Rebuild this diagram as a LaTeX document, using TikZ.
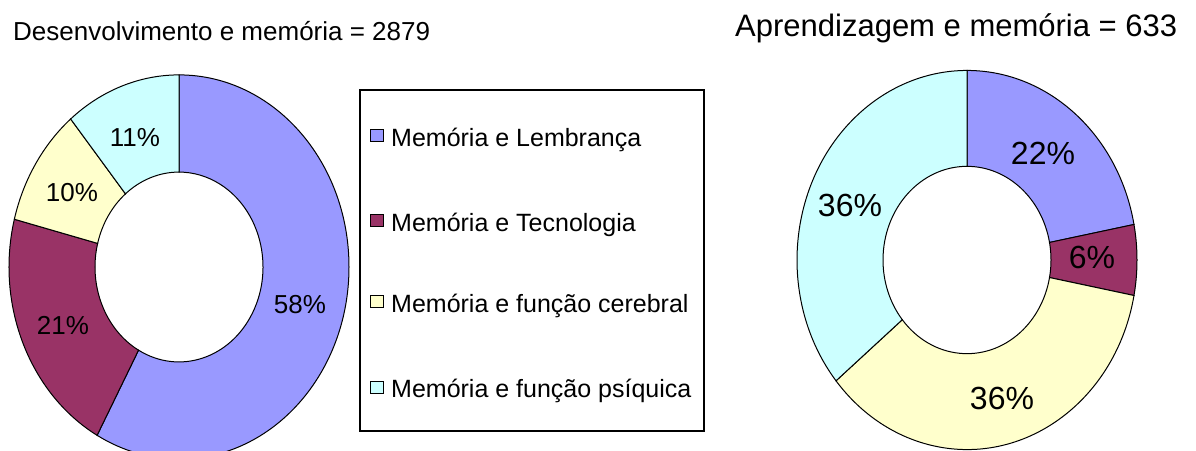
\documentclass[tikz,border=0pt]{standalone}
\usepackage{fontspec}
\setmainfont{Liberation Sans}
\usepackage{tikz}
\definecolor{lavender}{HTML}{9999FF}
\definecolor{plum}{HTML}{993366}
\definecolor{cream}{HTML}{FFFFCC}
\definecolor{icecyan}{HTML}{CCFFFF}
\newcommand{\ringslice}[3]{%
  \draw [slice, fill=#3] (#1:170) arc [start angle=#1, end angle=#2, radius=170]
    -- (#2:84) arc [start angle=#2, end angle=#1, radius=84] -- cycle;}
\tikzset{slice/.style={draw=black, line width=1pt},
  swatch/.style={draw=black, line width=1pt, minimum width=13pt, minimum height=12pt, inner sep=0pt},
  legtext/.style={anchor=base west, inner sep=0pt, font=\fontsize{25}{28}\selectfont},
  pctsmall/.style={font=\fontsize{26}{28}\selectfont},
  pctbig/.style={font=\fontsize{32}{34}\selectfont}}

\begin{document}
\begin{tikzpicture}[x=1pt, y=1pt]
	\clip (0,0) rectangle (1196,450);
	\fill [white] (0,0) rectangle (1196,450);

	% titles
	\node [anchor=base west, inner sep=0pt, font=\fontsize{26}{28}\selectfont] (titleleft) at (13,409) {Desenvolvimento e memória = 2879};
	\node [anchor=base west, inner sep=0pt, font=\fontsize{31}{33}\selectfont] (titleright) at (735,413) {Aprendizagem e memória = 633};

	% left ring
	\begin{scope}[shift={(179,183)}, y=1.13pt]
		\ringslice{90}{-118.8}{lavender}
		\ringslice{-118.8}{-194.4}{plum}
		\ringslice{165.6}{129.6}{cream}
		\ringslice{129.6}{90}{icecyan}
	\end{scope}
	\node [pctsmall] (lb) at (300,145) {58\%};
	\node [pctsmall] (lt) at (63,125) {21\%};
	\node [pctsmall] (lc) at (72,257) {10\%};
	\node [pctsmall] (lp) at (135,312) {11\%};

	% right ring
	\begin{scope}[shift={(967,190)}, y=1.115pt]
		\ringslice{90}{10.8}{lavender}
		\ringslice{10.8}{-10.8}{plum}
		\ringslice{-10.8}{-140.4}{cream}
		\ringslice{-140.4}{-270}{icecyan}
	\end{scope}
	\node [pctbig] (rb) at (1043,297) {22\%};
	\node [pctbig] (rt) at (1092,193) {6\%};
	\node [pctbig] (rc) at (1002,52) {36\%};
	\node [pctbig] (rp) at (850,245) {36\%};

	% legend
	\draw [black, line width=1.5pt] (360,360) rectangle (704,19);
	\node [swatch, fill=lavender] (swb) at (377,314) {};
	\node [swatch, fill=plum] (swt) at (377,229) {};
	\node [swatch, fill=cream] (swc) at (377,148) {};
	\node [swatch, fill=icecyan] (swp) at (377,63) {};
	\node [legtext] (legb) at (391,303) {Memória e Lembrança};
	\node [legtext] (legt) at (391,218) {Memória e Tecnologia};
	\node [legtext] (legc) at (391,138) {Memória e função cerebral};
	\node [legtext] (legp) at (391,53) {Memória e função psíquica};

\end{tikzpicture}
\end{document}
